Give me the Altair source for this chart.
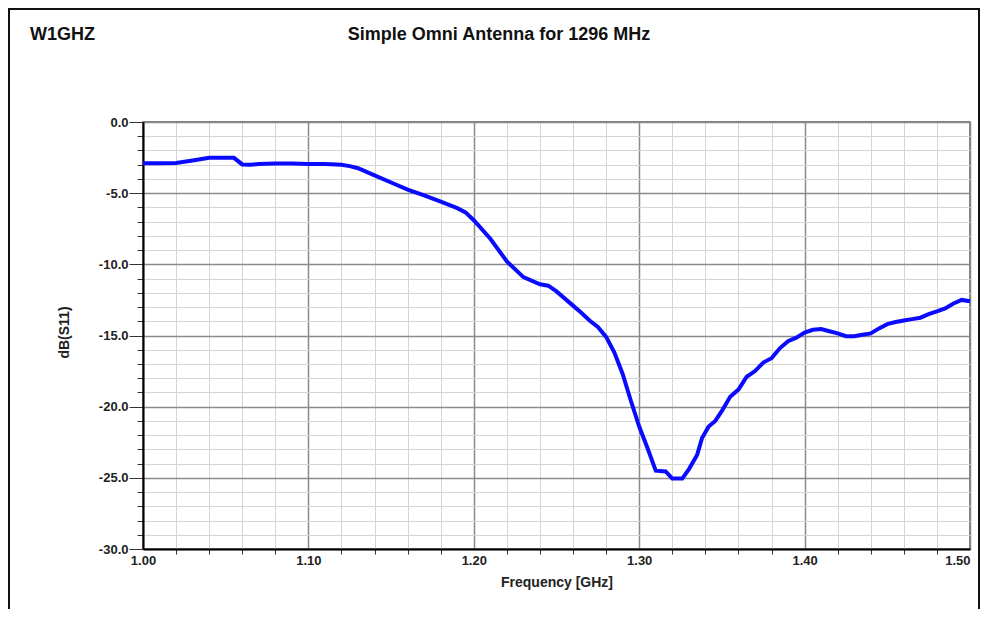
import altair as alt
import pandas as pd

freq_ghz = [1.000, 1.010, 1.020, 1.030, 1.040, 1.050, 1.055, 1.060, 1.065, 1.070,
            1.080, 1.090, 1.100, 1.110, 1.120, 1.125, 1.130, 1.140, 1.150, 1.160,
            1.170, 1.180, 1.190, 1.195, 1.200, 1.210, 1.220, 1.230, 1.240, 1.245,
            1.250, 1.260, 1.265, 1.270, 1.275, 1.280, 1.285, 1.290, 1.295, 1.300,
            1.305, 1.310, 1.316, 1.320, 1.326, 1.330, 1.335, 1.338, 1.342, 1.346,
            1.350, 1.355, 1.360, 1.365, 1.370, 1.375, 1.380, 1.385, 1.390, 1.395,
            1.400, 1.405, 1.410, 1.415, 1.420, 1.425, 1.430, 1.435, 1.440, 1.445,
            1.450, 1.455, 1.460, 1.465, 1.470, 1.475, 1.480, 1.485, 1.490, 1.495,
            1.500]
db_s11 = [-2.90, -2.90, -2.88, -2.70, -2.52, -2.52, -2.52, -2.98, -3.00, -2.95,
          -2.92, -2.92, -2.95, -2.95, -3.00, -3.10, -3.25, -3.75, -4.25, -4.75,
          -5.15, -5.60, -6.05, -6.35, -6.90, -8.20, -9.80, -10.90, -11.40, -11.50,
          -11.90, -12.90, -13.40, -13.95, -14.40, -15.10, -16.20, -17.70, -19.60, -21.40,
          -22.90, -24.50, -24.55, -25.05, -25.05, -24.40, -23.40, -22.20, -21.40, -21.00,
          -20.30, -19.30, -18.80, -17.90, -17.50, -16.90, -16.60, -15.90, -15.40, -15.15,
          -14.80, -14.60, -14.55, -14.70, -14.85, -15.05, -15.05, -14.95, -14.85, -14.50,
          -14.20, -14.05, -13.95, -13.85, -13.75, -13.50, -13.30, -13.10, -12.75, -12.50,
          -12.60]

x_ticks = [1.00, 1.02, 1.04, 1.06, 1.08, 1.10, 1.12, 1.14, 1.16, 1.18, 1.20, 1.22, 1.24,
           1.26, 1.28, 1.30, 1.32, 1.34, 1.36, 1.38, 1.40, 1.42, 1.44, 1.46, 1.48, 1.50]
y_ticks = [0, -1, -2, -3, -4, -5, -6, -7, -8, -9, -10, -11, -12, -13, -14, -15, -16,
           -17, -18, -19, -20, -21, -22, -23, -24, -25, -26, -27, -28, -29, -30]

chart_title = "Simple Omni Antenna for 1296 MHz"
corner_label = "W1GHZ"
x_title = "Frequency [GHz]"
y_title = "dB(S11)"

FONT = "Liberation Sans"
W, H = 827, 427

df = pd.DataFrame({"f": freq_ghz, "db": db_s11})

x_major = "abs(datum.value*10 - round(datum.value*10)) < 0.001"
y_major = "abs(datum.value % 5) < 0.001"

line = alt.Chart(df).mark_line(color="#0a0aff", strokeWidth=4, clip=False).encode(
    x=alt.X("f:Q", scale=alt.Scale(domain=[1.0, 1.5], nice=False, zero=False),
            axis=alt.Axis(
                values=x_ticks, title=x_title,
                labelExpr=f"({x_major}) ? format(datum.value, '.2f') : ''",
                labelFont=FONT, labelFontSize=13, labelFontWeight="bold", labelColor="#222",
                labelPadding=5, labelOverlap=False, labelFlush=False,
                labelAlign={"condition": {"test": "datum.value > 1.499", "value": "right"},
                            "value": "center"},
                titleFont=FONT, titleFontSize=14, titleFontWeight="bold", titleColor="#222",
                titleY=33, titleBaseline="middle",
                domainColor="#000", domainWidth=2,
                tickColor="#333", tickWidth=1,
                tickSize={"condition": {"test": x_major, "value": 0}, "value": 5},
                gridColor={"condition": {"test": x_major, "value": "#8a8a8a"}, "value": "#d4d4d4"},
                gridWidth={"condition": {"test": x_major, "value": 1.5}, "value": 1},
            )),
    y=alt.Y("db:Q", scale=alt.Scale(domain=[-30, 0], nice=False, zero=False),
            axis=alt.Axis(
                values=y_ticks, title=y_title,
                labelExpr=f"({y_major}) ? replace(format(datum.value, '.1f'), '\u2212', '-') : ''",
                labelFont=FONT, labelFontSize=13, labelFontWeight="bold", labelColor="#222",
                labelPadding=1, labelOverlap=False, labelFlush=False,
                titleFont=FONT, titleFontSize=14, titleFontWeight="bold", titleColor="#222",
                titleX=-79, titleY=210, titleAngle=-90, titleAlign="center", titleBaseline="middle",
                domainColor="#000", domainWidth=2,
                tickColor="#333", tickWidth=1,
                tickSize={"condition": {"test": y_major, "value": 14}, "value": 6},
                gridColor={"condition": {"test": y_major, "value": "#8a8a8a"}, "value": "#d4d4d4"},
                gridWidth={"condition": {"test": y_major, "value": 1.5}, "value": 1},
            )),
)

title_txt = alt.Chart(pd.DataFrame({"t": [chart_title]})).mark_text(
    font=FONT, fontSize=18, fontWeight="bold", color="#111", align="center", baseline="middle"
).encode(text="t:N", x=alt.value(356), y=alt.value(-87))

corner_txt = alt.Chart(pd.DataFrame({"t": [corner_label]})).mark_text(
    font=FONT, fontSize=18, fontWeight="bold", color="#111", align="left", baseline="middle"
).encode(text="t:N", x=alt.value(-113), y=alt.value(-87))

frame = alt.Chart(pd.DataFrame({"t": [0]})).mark_rect(
    fill=None, stroke="#111", strokeWidth=2
).encode(x=alt.value(-134), x2=alt.value(W + 9), y=alt.value(-113), y2=alt.value(H + 70))

chart = alt.layer(frame, line, title_txt, corner_txt).properties(
    width=W, height=H,
    autosize=alt.AutoSizeParams(type="none"),
    padding={"left": 135, "top": 114, "right": 10, "bottom": 60},
    background="white",
).configure_view(stroke="#555", strokeWidth=1.5)

chart.save("out.html", embed_options={"renderer": "svg", "actions": False})
